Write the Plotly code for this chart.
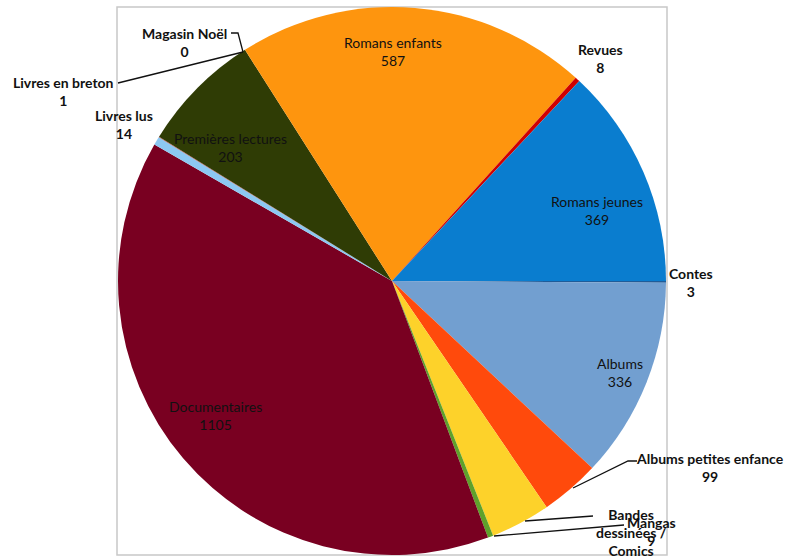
import plotly.graph_objects as go

W, H = 787, 559

categories = ["Contes", "Albums", "Albums petites enfance", "Bandes dessinées / Comics",
              "Mangas", "Documentaires", "Livres lus", "Livres en breton", "Magasin Noël",
              "Premières lectures", "Romans enfants", "Revues", "Romans jeunes"]
values = [3, 336, 99, 100, 9, 1105, 14, 1, 0, 203, 587, 8, 369]
colors = ["#1F5C99", "#729FD0", "#FF4A0C", "#FDD22A", "#5FA12B", "#790021", "#8CC8F2",
          "#C0504D", "#4F81BD", "#2F3C05", "#FE950E", "#D00000", "#0A7DCF"]

# label text for each category (name lines, value)
label_lines = {
    "Bandes dessinées / Comics": "Bandes<br>dessinées /<br>Comics",
}

def px(x):
    return x / W

def py(y):
    return 1 - y / H

fig = go.Figure()
fig.add_trace(go.Pie(
    labels=categories, values=values, sort=False, direction="clockwise", rotation=90,
    marker=dict(colors=colors, line=dict(width=0)), textinfo="none", hoverinfo="label+value",
    domain=dict(x=[px(117), px(667)], y=[py(555), py(7)]), showlegend=False,
))

# label placements (pixel centres) and style: inside labels regular, outside bold
placements = {
    "Contes": (691, 282, True),
    "Albums": (620, 372, False),
    "Albums petites enfance": (710, 467, True),
    "Bandes dessinées / Comics": (631, 542, True),
    "Mangas": (651, 531, True),
    "Documentaires": (215, 415, False),
    "Livres lus": (124, 124, True),
    "Livres en breton": (63, 91, True),
    "Magasin Noël": (184, 42, True),
    "Premières lectures": (230, 148, False),
    "Romans enfants": (393, 52, False),
    "Revues": (600, 58, True),
    "Romans jeunes": (597, 210, False),
}

for cat, val in zip(categories, values):
    x, y, outside = placements[cat]
    name = label_lines.get(cat, cat)
    txt = f"{name}<br>{val}"
    fig.add_annotation(
        x=px(x), y=py(y), xref="paper", yref="paper", text=txt, showarrow=False,
        xanchor="center", yanchor="middle", align="center",
        font=dict(family="Lato", size=14, color="#111111",
                  weight="bold" if outside else "normal"),
    )

# leader lines
leaders = [
    [(231, 33), (238, 33), (243, 52)],
    [(118, 83), (243, 52)],
    [(637, 461), (628, 461), (573, 488)],
    [(593, 516), (525, 521)],
    [(624, 525), (494, 536)],
]
for pts in leaders:
    path = "M " + " L ".join(f"{px(a)},{py(b)}" for a, b in pts)
    fig.add_shape(type="path", path=path, xref="paper", yref="paper",
                  line=dict(color="#111111", width=1.3))

# plot frame
fig.add_shape(type="rect", xref="paper", yref="paper", x0=px(117), x1=px(667),
              y0=py(555), y1=py(7), line=dict(color="#C8C8C8", width=1.5), layer="below")

fig.update_layout(width=W, height=H, margin=dict(l=0, r=0, t=0, b=0),
                  paper_bgcolor="white", plot_bgcolor="white")
fig.write_html("out.html")
